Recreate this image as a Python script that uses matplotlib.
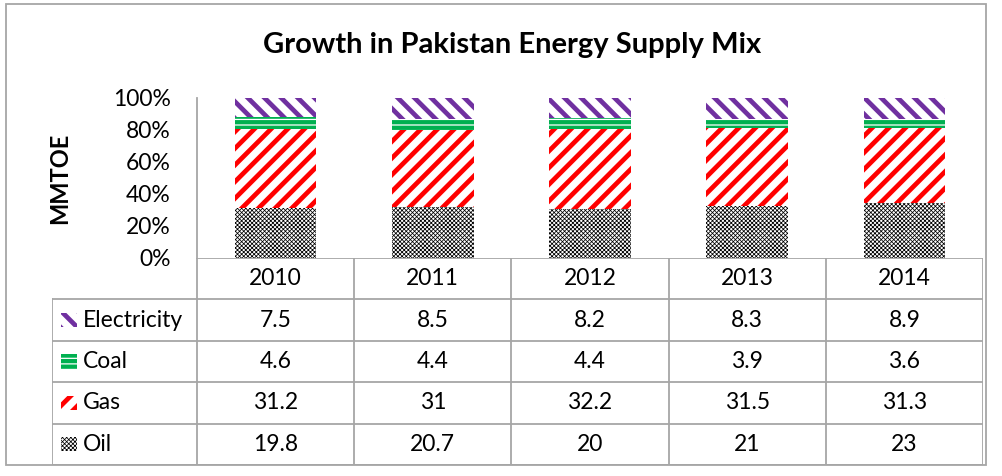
import matplotlib
matplotlib.use('Agg')
import matplotlib.pyplot as plt
import numpy as np
from matplotlib.patches import Rectangle

plt.rcParams['font.family'] = ['Lato', 'DejaVu Sans']

years = ['2010', '2011', '2012', '2013', '2014']
series_names = ['Electricity', 'Coal', 'Gas', 'Oil']
electricity = [7.5, 8.5, 8.2, 8.3, 8.9]
coal = [4.6, 4.4, 4.4, 3.9, 3.6]
gas = [31.2, 31, 32.2, 31.5, 31.3]
oil = [19.8, 20.7, 20, 21, 23]

# style per series: (hatch colour, face colour, hatch, hatch linewidth)
styles = {
    'Electricity': ('#7030A0', 'white', '\\\\', 3.4),
    'Coal': ('white', '#00B050', '---', 0.9),
    'Gas': ('#FF0000', 'white', '//', 3.4),
    'Oil': ('black', 'white', 'x' * 8, 0.55),
}

W, H = 1003, 476
fig = plt.figure(figsize=(W / 100, H / 100), dpi=100)
grid_c = '#A6A6A6'
fs = 16.5

# outer chart border
fig.patches.append(Rectangle((6 / W, 1 - 465 / H), 980 / W, 461 / H, transform=fig.transFigure,
                             fill=False, edgecolor=grid_c, linewidth=1.3))

fig.text(512 / W, 1 - 45 / H, 'Growth in Pakistan Energy Supply Mix', ha='center', va='center',
         fontsize=21, fontweight='bold')

ax = fig.add_axes([197 / W, 1 - 258 / H, 786 / W, 160 / H])
x = np.arange(len(years))
values = {'Electricity': electricity, 'Coal': coal, 'Gas': gas, 'Oil': oil}
total = np.array(electricity) + np.array(coal) + np.array(gas) + np.array(oil)

bottom = np.zeros(len(years))
for name in ['Oil', 'Gas', 'Coal', 'Electricity']:
    share = np.array(values[name]) / total
    hc, fc, hatch, hlw = styles[name]
    with plt.rc_context({'hatch.linewidth': hlw}):
        ax.bar(x, share, 0.52, bottom=bottom, color=fc, edgecolor=hc, hatch=hatch, linewidth=0)
    bottom += share

ax.set_xlim(-0.5, 4.5)
ax.set_ylim(0, 1)
ax.set_yticks(np.arange(0, 1.01, 0.2))
ax.set_yticklabels(['%d%%' % round(v * 100) for v in np.arange(0, 1.01, 0.2)], fontsize=fs)
ax.tick_params(axis='y', length=0, pad=19)
ax.set_xticks([])
for s in ['top', 'right', 'bottom']:
    ax.spines[s].set_visible(False)
ax.spines['left'].set_color(grid_c)
ax.spines['left'].set_linewidth(1.3)
ax.set_ylabel('MMTOE', fontsize=17, fontweight='bold', labelpad=30)

# data table under the bars
col_w = 157.2
lab_w = 145 / col_w
tax = fig.add_axes([52 / W, 1 - 465 / H, (983 - 52) / W, (465 - 258) / H])
left = -0.5 - lab_w
tax.set_xlim(left, 4.5)
tax.set_ylim(5, 0)
tax.axis('off')

lk = dict(color=grid_c, linewidth=1.3, solid_capstyle='projecting')
tax.plot([-0.5, 4.5], [0, 0], **lk)
for r in range(1, 6):
    tax.plot([left, 4.5], [r, r], **lk)
tax.plot([left, left], [1, 5], **lk)
for c in range(6):
    tax.plot([c - 0.5, c - 0.5], [0, 5], **lk)

for i, yr in enumerate(years):
    tax.text(i, 0.5, yr, ha='center', va='center', fontsize=fs)

for r, name in enumerate(series_names, start=1):
    hc, fc, hatch, hlw = styles[name]
    with plt.rc_context({'hatch.linewidth': hlw}):
        tax.add_patch(Rectangle((left + 0.06, r + 0.33), 0.1, 0.34, facecolor=fc, edgecolor=hc,
                                hatch=hatch, linewidth=0))
    tax.text(left + 0.197, r + 0.5, name, ha='left', va='center', fontsize=fs)
    for i, v in enumerate(values[name]):
        tax.text(i, r + 0.5, '{:g}'.format(v), ha='center', va='center', fontsize=fs)

fig.savefig('out.png', dpi=100)
